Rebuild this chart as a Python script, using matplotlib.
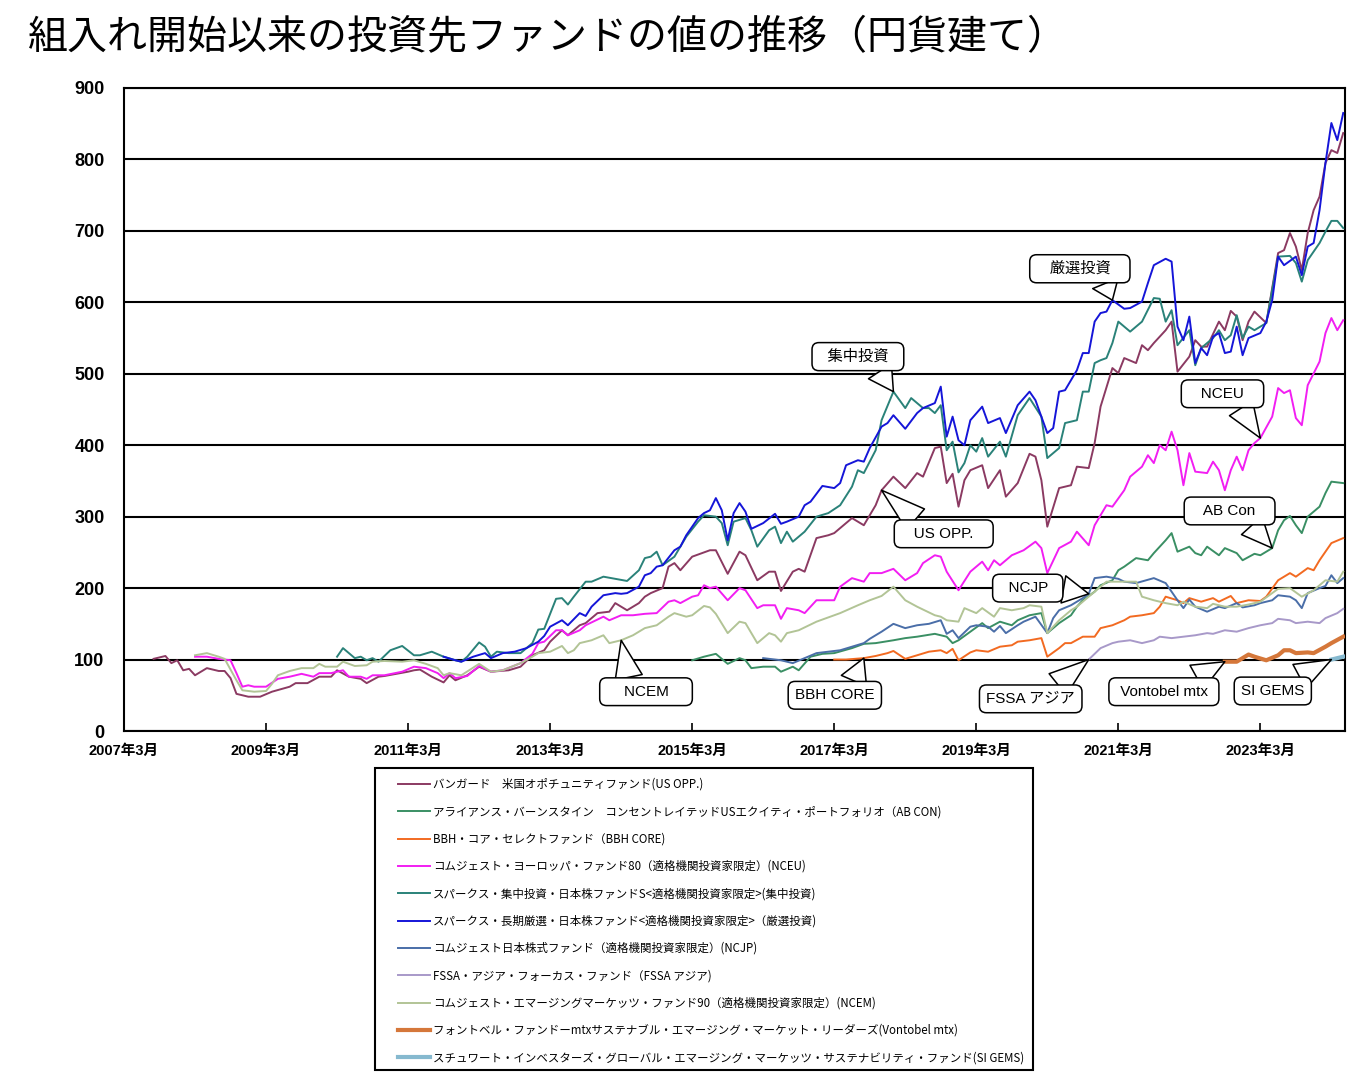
import matplotlib
matplotlib.use("Agg")
import matplotlib.pyplot as plt
from matplotlib.patches import Rectangle
from matplotlib.font_manager import FontProperties

plt.rcParams['font.family'] = ['Liberation Sans', 'Noto Sans CJK JP']

title = '組入れ開始以来の投資先ファンドの値の推移（円貨建て）'

# x axis: months counted from 2007年3月
tick_months = [0, 24, 48, 72, 96, 120, 144, 168, 192]
tick_labels = ['2007年3月', '2009年3月', '2011年3月', '2013年3月', '2015年3月',
               '2017年3月', '2019年3月', '2021年3月', '2023年3月']
y_ticks = [0, 100, 200, 300, 400, 500, 600, 700, 800, 900]

us_opp_m = [5, 7, 8, 9, 10, 11, 12, 14, 16, 17, 18, 19, 21, 23, 25, 28, 29, 31, 33, 35,
            36, 38, 40, 41, 43, 44, 46, 48, 49, 50, 52, 54, 55, 56, 58, 60, 62, 65, 67, 69,
            71, 72, 74, 75, 77, 78, 80, 82, 83, 84, 85, 87, 88, 89, 91, 92, 93, 94, 96, 99,
            100, 102, 104, 105, 107, 109, 110, 111, 113, 114, 115, 117, 119, 120, 123, 125, 127, 128, 130, 132,
            134, 135, 137, 138, 139, 140, 141, 142, 143, 145, 146, 148, 149, 151, 153, 154, 155, 156, 158, 160,
            161, 163, 164, 165, 167, 168, 169, 171, 172, 173, 174, 175, 176, 177, 178, 180, 181, 182, 183, 185,
            186, 187, 188, 189, 190, 191, 193, 195, 196, 197, 198, 199, 200, 201, 202, 203, 204, 205, 206]
us_opp_v = [101, 105, 95, 99, 85, 87, 78, 88, 84, 84, 74, 52, 48, 48, 55, 62, 67, 67, 76, 76,
            85, 76, 73, 67, 76, 77, 80, 83, 85, 86, 76, 68, 78, 71, 78, 90, 83, 85, 90, 106,
            113, 125, 141, 134, 148, 151, 165, 167, 179, 174, 169, 179, 188, 193, 200, 230, 235, 225, 244, 253,
            253, 220, 251, 246, 211, 223, 223, 196, 223, 227, 223, 270, 274, 277, 298, 288, 316, 337, 356, 340,
            361, 356, 396, 398, 347, 360, 314, 351, 365, 372, 340, 365, 328, 347, 388, 384, 351, 286, 340, 344,
            370, 368, 403, 454, 508, 501, 522, 515, 540, 533, 543, 552, 561, 573, 503, 524, 547, 538, 538, 573,
            561, 588, 580, 547, 573, 587, 571, 669, 673, 697, 678, 645, 697, 729, 748, 795, 813, 809, 837]

ab_con_m = [96, 98, 100, 102, 104, 105, 106, 108, 110, 111, 113, 114, 116, 118, 120, 123, 125, 127, 130, 132,
            134, 137, 139, 140, 141, 143, 145, 146, 148, 150, 151, 153, 155, 156, 158, 160, 161, 162, 164, 165,
            167, 168, 169, 171, 173, 174, 175, 176, 177, 178, 180, 181, 182, 183, 185, 186, 188, 189, 191, 192,
            194, 195, 196, 197, 198, 199, 200, 202, 203, 204, 206]
ab_con_v = [99, 104, 108, 94, 102, 99, 88, 90, 90, 83, 90, 85, 104, 108, 109, 116, 122, 123, 127, 130,
            132, 136, 132, 123, 127, 139, 151, 144, 153, 148, 155, 162, 165, 137, 151, 162, 174, 183, 195, 204,
            211, 225, 230, 242, 239, 249, 258, 267, 277, 251, 258, 249, 246, 258, 246, 256, 249, 239, 248, 246,
            256, 281, 295, 301, 288, 277, 300, 314, 333, 349, 347]

bbh_m = [120, 122, 125, 127, 129, 130, 132, 134, 136, 138, 139, 140, 141, 143, 144, 146, 148, 150, 151, 153,
         155, 156, 158, 159, 160, 162, 164, 165, 167, 169, 170, 172, 174, 175, 176, 178, 179, 180, 182, 184,
         185, 187, 188, 190, 192, 193, 195, 196, 197, 198, 200, 201, 202, 203, 204, 206]
bbh_v = [100, 100, 102, 105, 109, 112, 101, 106, 111, 113, 109, 115, 99, 110, 113, 111, 118, 120, 125, 127,
         130, 104, 116, 123, 123, 132, 132, 144, 148, 155, 160, 162, 165, 174, 188, 183, 179, 186, 181, 186,
         181, 189, 179, 183, 182, 188, 211, 216, 221, 216, 228, 225, 239, 251, 263, 270]

nceu_m = [12, 14, 16, 18, 19, 20, 21, 22, 24, 26, 28, 30, 32, 33, 35, 37, 38, 40, 41, 42,
          44, 47, 49, 51, 53, 54, 55, 56, 58, 60, 62, 64, 67, 69, 70, 71, 73, 74, 75, 77,
          78, 81, 82, 84, 86, 88, 90, 92, 93, 94, 96, 97, 98, 99, 100, 102, 104, 105, 107, 108,
          110, 111, 112, 114, 115, 117, 120, 121, 123, 125, 126, 128, 130, 132, 134, 135, 137, 138, 139, 141,
          143, 145, 146, 147, 148, 150, 152, 154, 155, 156, 158, 160, 161, 163, 164, 165, 166, 167, 169, 170,
          172, 173, 174, 175, 176, 177, 178, 179, 180, 181, 183, 184, 185, 186, 187, 188, 189, 190, 191, 192,
          194, 195, 196, 197, 198, 199, 200, 202, 203, 204, 205, 206]
nceu_v = [104, 104, 101, 99, 81, 62, 64, 62, 62, 73, 76, 80, 76, 81, 81, 85, 76, 76, 73, 78,
          78, 83, 90, 88, 81, 74, 81, 74, 77, 91, 83, 85, 95, 108, 123, 125, 141, 141, 134, 141,
          148, 160, 155, 162, 162, 164, 165, 181, 183, 179, 188, 190, 204, 200, 202, 183, 200, 197, 172, 176,
          176, 157, 172, 169, 165, 183, 183, 202, 214, 209, 221, 221, 227, 211, 221, 235, 246, 244, 223, 197,
          223, 237, 225, 239, 232, 246, 253, 265, 256, 221, 256, 265, 279, 260, 288, 302, 316, 314, 337, 356,
          370, 386, 375, 400, 393, 419, 393, 344, 389, 363, 361, 377, 365, 337, 365, 384, 365, 393, 403, 410,
          440, 480, 473, 477, 438, 428, 484, 517, 557, 578, 561, 575]

shuchu_m = [36, 37, 39, 40, 41, 42, 43, 45, 47, 49, 50, 52, 54, 56, 57, 58, 60, 61, 62, 63,
            65, 67, 69, 70, 71, 73, 74, 75, 76, 78, 79, 81, 83, 85, 87, 88, 89, 90, 91, 93,
            95, 97, 98, 100, 101, 102, 103, 105, 106, 107, 109, 110, 111, 112, 113, 115, 117, 119, 121, 123,
            124, 125, 127, 128, 130, 132, 133, 135, 136, 137, 138, 139, 140, 141, 142, 143, 144, 145, 146, 148,
            149, 151, 153, 155, 156, 158, 159, 161, 162, 163, 164, 165, 166, 167, 168, 170, 172, 174, 175, 176,
            177, 178, 180, 181, 182, 184, 185, 186, 187, 188, 189, 190, 191, 193, 195, 197, 198, 199, 200, 202,
            203, 204, 205, 206]
shuchu_v = [104, 116, 102, 104, 99, 102, 97, 113, 119, 106, 106, 111, 104, 99, 97, 104, 124, 118, 104, 111,
            109, 109, 123, 142, 143, 185, 186, 177, 188, 209, 209, 216, 213, 210, 225, 242, 244, 251, 232, 244,
            272, 293, 302, 300, 291, 260, 293, 298, 281, 258, 281, 286, 263, 279, 265, 279, 300, 305, 316, 342,
            365, 361, 393, 435, 475, 452, 466, 452, 452, 445, 456, 393, 405, 362, 375, 400, 391, 410, 384, 405,
            384, 442, 466, 440, 382, 396, 431, 435, 475, 475, 515, 519, 522, 543, 573, 559, 573, 606, 605, 573,
            589, 540, 561, 512, 536, 550, 561, 547, 554, 582, 550, 566, 561, 571, 664, 665, 655, 629, 659, 683,
            699, 714, 714, 704]

gensen_m = [54, 56, 57, 59, 61, 62, 64, 66, 68, 70, 71, 72, 74, 75, 77, 78, 79, 81, 83, 84,
            85, 87, 88, 89, 90, 91, 93, 94, 95, 97, 98, 99, 100, 101, 102, 103, 104, 105, 106, 108,
            110, 111, 112, 114, 115, 116, 118, 120, 121, 122, 124, 125, 126, 128, 129, 130, 132, 134, 135, 137,
            138, 139, 140, 141, 142, 143, 145, 146, 148, 149, 151, 153, 154, 156, 157, 158, 159, 161, 162, 163,
            164, 165, 166, 167, 169, 170, 172, 173, 174, 176, 177, 178, 179, 180, 181, 182, 183, 184, 185, 186,
            187, 188, 189, 190, 192, 193, 194, 195, 196, 198, 199, 200, 201, 202, 203, 204, 205, 206]
gensen_v = [104, 99, 97, 104, 109, 102, 109, 111, 116, 125, 133, 146, 155, 148, 165, 161, 174, 190, 193, 192,
            193, 202, 218, 221, 230, 232, 253, 258, 274, 298, 305, 309, 326, 309, 267, 305, 319, 307, 283, 291,
            304, 290, 293, 300, 316, 321, 343, 340, 347, 372, 379, 377, 396, 426, 431, 442, 423, 445, 452, 459,
            482, 412, 440, 407, 400, 435, 454, 431, 438, 417, 456, 475, 463, 417, 424, 475, 477, 505, 529, 529,
            573, 585, 587, 603, 591, 592, 601, 627, 652, 661, 657, 566, 547, 580, 515, 536, 526, 552, 557, 529,
            531, 566, 526, 550, 557, 573, 603, 664, 652, 664, 638, 678, 683, 729, 795, 851, 827, 865]

ncjp_m = [108, 111, 113, 115, 117, 119, 121, 123, 125, 126, 128, 130, 132, 134, 136, 138, 139, 140, 141, 143,
          144, 146, 147, 148, 149, 151, 152, 154, 156, 157, 158, 160, 162, 163, 164, 166, 168, 169, 171, 174,
          176, 178, 179, 180, 181, 183, 185, 186, 188, 189, 191, 192, 194, 195, 197, 198, 199, 200, 202, 203,
          204, 205, 206]
ncjp_v = [102, 99, 95, 102, 109, 111, 113, 118, 123, 129, 139, 150, 144, 148, 150, 155, 136, 141, 130, 146,
          148, 146, 139, 147, 137, 148, 153, 160, 137, 158, 169, 176, 186, 192, 214, 216, 213, 209, 207, 214,
          207, 183, 172, 184, 174, 167, 174, 172, 179, 173, 176, 179, 183, 190, 188, 183, 172, 193, 200, 203,
          218, 207, 214]

fssa_m = [163, 165, 167, 168, 170, 172, 174, 175, 177, 179, 181, 183, 184, 186, 188, 190, 192, 194, 195, 197,
          198, 200, 202, 203, 205, 206]
fssa_v = [100, 116, 123, 125, 127, 123, 127, 132, 130, 132, 134, 137, 136, 141, 139, 144, 148, 151, 157, 155,
          151, 153, 151, 158, 165, 171]

ncem_m = [12, 14, 16, 17, 19, 20, 22, 24, 25, 26, 28, 30, 32, 33, 34, 36, 37, 39, 41, 42,
          44, 47, 49, 51, 53, 54, 55, 57, 60, 62, 64, 67, 69, 70, 72, 74, 75, 76, 77, 79,
          81, 82, 84, 86, 88, 90, 92, 93, 95, 96, 98, 99, 100, 102, 104, 105, 107, 109, 110, 111,
          112, 114, 117, 121, 124, 126, 128, 130, 132, 134, 137, 138, 139, 141, 142, 144, 145, 147, 148, 150,
          152, 153, 155, 156, 158, 160, 161, 163, 165, 166, 168, 170, 171, 172, 174, 176, 178, 179, 181, 183,
          184, 186, 188, 190, 192, 195, 197, 199, 201, 203, 205, 206]
ncem_v = [106, 109, 104, 101, 71, 57, 55, 56, 66, 78, 84, 88, 88, 94, 90, 90, 97, 91, 92, 97,
          98, 97, 99, 94, 88, 78, 81, 78, 94, 83, 85, 95, 104, 109, 111, 119, 109, 113, 123, 127,
          134, 123, 127, 134, 144, 148, 160, 165, 160, 162, 175, 173, 164, 137, 153, 151, 123, 137, 134, 125,
          137, 141, 153, 165, 176, 183, 189, 202, 183, 174, 162, 160, 155, 153, 172, 165, 172, 160, 172, 169,
          172, 176, 174, 137, 155, 169, 174, 188, 202, 209, 209, 209, 209, 188, 183, 179, 176, 181, 174, 172,
          178, 174, 174, 177, 181, 199, 200, 188, 197, 211, 209, 223]

vontobel_m = [186, 188, 190, 191, 193, 195, 196, 197, 198, 200, 201, 203, 204, 206]
vontobel_v = [97, 97, 107, 104, 99, 106, 113, 113, 109, 110, 109, 118, 123, 132]

sigems_m = [204, 205, 206]
sigems_v = [100, 102, 104]

legend_labels = [
    'バンガード　米国オポチュニティファンド(US OPP.)',
    'アライアンス・バーンスタイン　コンセントレイテッドUSエクイティ・ポートフォリオ（AB CON)',
    'BBH・コア・セレクトファンド（BBH CORE)',
    'コムジェスト・ヨーロッパ・ファンド80（適格機関投資家限定）(NCEU)',
    'スパークス・集中投資・日本株ファンドS<適格機関投資家限定>(集中投資)',
    'スパークス・長期厳選・日本株ファンド<適格機関投資家限定>（厳選投資)',
    'コムジェスト日本株式ファンド（適格機関投資家限定）(NCJP)',
    'FSSA・アジア・フォーカス・ファンド（FSSA アジア)',
    'コムジェスト・エマージングマーケッツ・ファンド90（適格機関投資家限定）(NCEM)',
    'フォントベル・ファンドーmtxサステナブル・エマージング・マーケット・リーダーズ(Vontobel mtx)',
    'スチュワート・インベスターズ・グローバル・エマージング・マーケッツ・サステナビリティ・ファンド(SI GEMS)',
]

series = [
    (us_opp_m, us_opp_v, '#8B3A62', 1.4),
    (ab_con_m, ab_con_v, '#3A8F64', 1.4),
    (bbh_m, bbh_v, '#F26A21', 1.4),
    (nceu_m, nceu_v, '#F21EF2', 1.4),
    (shuchu_m, shuchu_v, '#2A8279', 1.4),
    (gensen_m, gensen_v, '#1515D8', 1.4),
    (ncjp_m, ncjp_v, '#4A6EA8', 1.4),
    (fssa_m, fssa_v, '#A899C9', 1.4),
    (ncem_m, ncem_v, '#B2C496', 1.4),
    (vontobel_m, vontobel_v, '#D5773A', 3.0),
    (sigems_m, sigems_v, '#86B9CF', 3.0),
]

# callouts: text, series index, month of the pointed value, box centre (month, value), wedge start
callouts = [
    ('  集中投資  ', 4, 130, (124.0, 524), (0.72, 0.0)),
    ('   厳選投資   ', 5, 167, (161.5, 647), (0.76, 0.0)),
    ('   US OPP.   ', 0, 128, (138.5, 276), (0.27, 1.0)),
    ('    NCEM    ', 8, 84, (88.2, 55), (0.30, 1.0)),
    ('BBH CORE', 2, 125, (120.1, 50), (0.70, 1.0)),
    ('   NCEU   ', 3, 192, (185.6, 472), (0.70, 0.0)),
    ('   AB Con   ', 1, 194, (186.8, 308), (0.70, 0.0)),
    ('  NCJP  ', 6, 163, (152.7, 200), (1.0, 0.5)),
    ('FSSA アジア', 7, 163, (153.2, 45), (0.70, 1.0)),
    (' Vontobel mtx ', 9, 186, (175.7, 55), (0.70, 1.0)),
    ('SI GEMS', 10, 204, (194.1, 56), (0.70, 1.0)),
]

W, H = 1362, 1088
fig = plt.figure(figsize=(W / 100, H / 100), dpi=100)
ax = fig.add_axes([124 / W, 1 - 731 / H, 1221 / W, 643 / H])

handles = []
for (m, v, c, lw), lab in zip(series, legend_labels):
    h, = ax.plot(m, v, color=c, lw=lw, label=lab, zorder=3)
    handles.append(h)

ax.set_xlim(0, 206.3)
ax.set_ylim(0, 900)
ax.set_yticks(y_ticks, labels=[str(t) for t in y_ticks], fontsize=13, fontweight='bold')
ax.set_xticks(tick_months, labels=tick_labels, fontsize=10.5, fontweight='bold')
ax.tick_params(axis='y', length=0, pad=14)
ax.tick_params(axis='x', direction='in', length=6, width=1.2, pad=9)
ax.yaxis.grid(True, color='black', lw=1.5, zorder=1)
ax.set_axisbelow(True)
for s in ax.spines.values():
    s.set_linewidth(1.5)
    s.set_color('black')

for text, si, tip_m, (bm, bv), rel in callouts:
    m, v = series[si][0], series[si][1]
    tip_v = v[m.index(tip_m)]
    ax.annotate(text, xy=(tip_m, tip_v), xytext=(bm, bv), ha='center', va='center',
                fontsize=11, zorder=5,
                bbox=dict(boxstyle='round,pad=0.45,rounding_size=0.45', fc='white', ec='black', lw=1.1),
                arrowprops=dict(arrowstyle='wedge,tail_width=1.8,shrink_factor=0.5', fc='white',
                                ec='black', lw=1.1, relpos=rel, shrinkA=0, shrinkB=0))

fig.text(28 / W, 1 - 38 / H, title, fontsize=28.8, family='Noto Sans CJK JP', va='center', ha='left')

# legend frame and entries
fig.add_artist(Rectangle((375 / W, 1 - 1070 / H), 658 / W, 302 / H, transform=fig.transFigure,
                         fill=False, ec='black', lw=1.5))
fig.legend(handles, legend_labels, loc='upper left', bbox_to_anchor=(398 / W, 1 - 778 / H),
           frameon=False, prop=FontProperties(family='Noto Sans CJK JP', size=8.25),
           handlelength=2.8, handletextpad=0.25, labelspacing=1.25, borderpad=0, borderaxespad=0)

fig.savefig('out.png', dpi=100)
